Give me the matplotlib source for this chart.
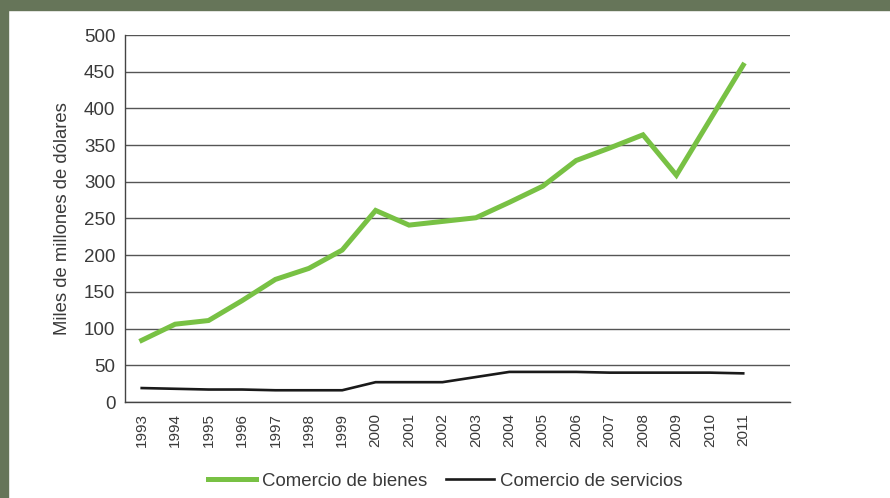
import matplotlib.pyplot as plt
import matplotlib.transforms as mtrans
from matplotlib.patches import Rectangle

years = [str(y) for y in range(1993, 2012)]
bienes = [84, 106, 111, 138, 167, 182, 207, 261, 241, 246, 251, 272, 294, 329, 346, 364, 309, 384, 459]
servicios = [19, 18, 17, 17, 16, 16, 16, 27, 27, 27, 34, 41, 41, 41, 40, 40, 40, 40, 39]

plt.rcParams['font.family'] = ['Liberation Sans', 'DejaVu Sans']
txt = '#3a3a3a'

fig = plt.figure(figsize=(8.9, 4.98), dpi=100)
fig.patch.set_facecolor('white')

# frame strips of the original page
fig.patches.append(Rectangle((0, 1 - 10 / 498), 1, 10 / 498, transform=fig.transFigure,
                             color='#667559', zorder=0))
fig.patches.append(Rectangle((0, 0), 8 / 890, 1, transform=fig.transFigure,
                             color='#667559', zorder=0))

ax = fig.add_axes([125 / 890, 96 / 498, 665 / 890, 367 / 498])
x = list(range(len(years)))

ax.plot(x, bienes, color='#78c144', lw=3.6, solid_joinstyle='miter', label='Comercio de bienes', zorder=3)
ax.plot(x, servicios, color='#1a1a1a', lw=1.9, label='Comercio de servicios', zorder=3)

ax.set_ylim(0, 500)
ax.set_xlim(-0.5, 19.4)
ax.set_yticks(range(0, 501, 50))
ax.set_xticks(x)
ax.set_xticklabels(years, rotation=90, fontsize=11, color=txt)
shift = mtrans.ScaledTranslation(4 / 100, 0, fig.dpi_scale_trans)
for lbl in ax.get_xticklabels():
    lbl.set_transform(lbl.get_transform() + shift)
ax.tick_params(axis='y', labelsize=13.5, colors=txt, length=0, pad=7)
ax.tick_params(axis='x', length=0, pad=8)
ax.grid(axis='y', color='#555555', lw=1)
ax.set_axisbelow(True)
for s in ['top', 'right']:
    ax.spines[s].set_visible(False)
for s in ['left', 'bottom']:
    ax.spines[s].set_color('#444444')
    ax.spines[s].set_linewidth(1)

ax.set_ylabel('Miles de millones de dólares', fontsize=13.3, color=txt, labelpad=9)

fig.legend(loc='center', bbox_to_anchor=(445 / 890, 1 - 481 / 498), ncol=2, frameon=False,
           fontsize=13.4, handlelength=2.6, columnspacing=1.0, handletextpad=0.3,
           labelcolor=txt)

fig.savefig('out.png', dpi=100)
